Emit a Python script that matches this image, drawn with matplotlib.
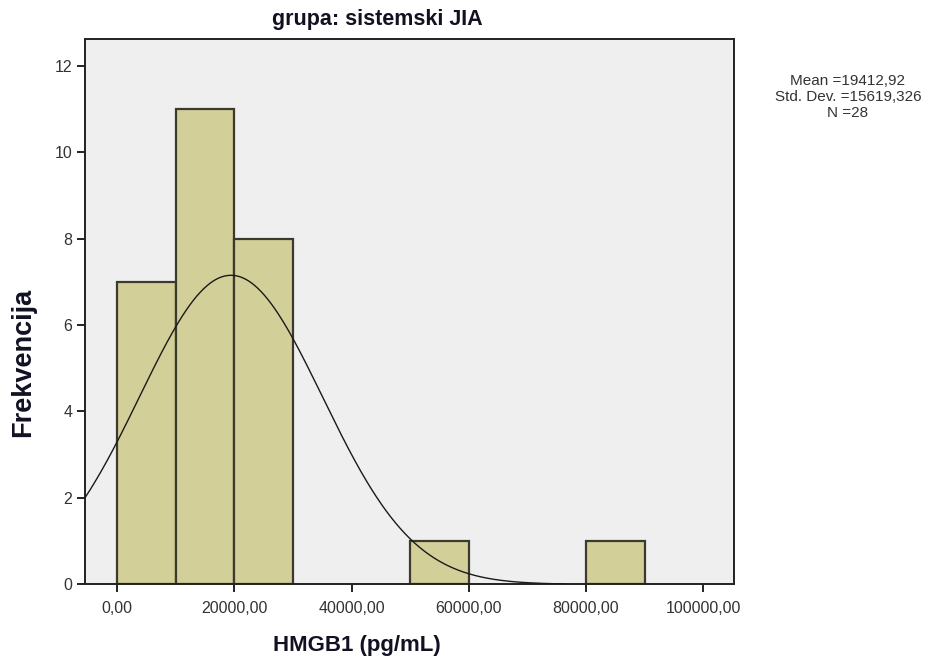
import numpy as np
import matplotlib.pyplot as plt

# histogram bins (pg/mL) and counts
bin_left = [0, 10000, 20000, 50000, 80000]
counts = [7, 11, 8, 1, 1]
bin_width = 10000

mean = 19412.92
std = 15619.326
n = 28

xticks = [0, 20000, 40000, 60000, 80000, 100000]
xtick_labels = ['0,00', '20000,00', '40000,00', '60000,00', '80000,00', '100000,00']
yticks = [0, 2, 4, 6, 8, 10, 12]

plt.rcParams['font.family'] = ['Liberation Sans', 'DejaVu Sans']

W, H = 936, 661
fig = plt.figure(figsize=(W / 100, H / 100), dpi=100)
ax = fig.add_axes([0.0908, 0.116, 0.6937, 0.825])
ax.set_facecolor('#efefef')

ax.bar(bin_left, counts, width=bin_width, align='edge',
       color='#d3cf98', edgecolor='#3a3a2e', linewidth=1.6, zorder=2)

# normal curve scaled to counts
xs = np.linspace(-5500, 76500, 400)
ys = n * bin_width / (std * np.sqrt(2 * np.pi)) * np.exp(-0.5 * ((xs - mean) / std) ** 2)
ax.plot(xs, ys, color='#1a1a1a', linewidth=1.0, zorder=3)

ax.set_xlim(-5500, 105300)
ax.set_ylim(0, 12.62)
ax.set_xticks(xticks)
ax.set_xticklabels(xtick_labels)
ax.set_yticks(yticks)

for s in ax.spines.values():
    s.set_color('#222222')
    s.set_linewidth(1.4)
ax.tick_params(axis='both', direction='out', length=6, width=1.4,
               colors='#222222', labelsize=11.5, labelcolor='#333333')
ax.tick_params(axis='x', pad=6)
ax.tick_params(axis='y', pad=3)

fig.text(377 / W, 1 - 20 / H, 'grupa: sistemski JIA', fontsize=15.5,
         fontweight='bold', color='#111122', ha='center', va='center')
fig.text(357 / W, 1 - 645 / H, 'HMGB1 (pg/mL)', fontsize=16,
         fontweight='bold', color='#111122', ha='center', va='center')
fig.text(23 / W, 1 - 362 / H, 'Frekvencija', fontsize=19.5,
         fontweight='bold', color='#111122', ha='center', va='center',
         rotation=90)

fig.text(848 / W, 1 - 97 / H,
         'Mean =19412,92\nStd. Dev. =15619,326\nN =28',
         ha='center', va='center', fontsize=11, color='#333333',
         linespacing=1.2)

fig.savefig('out.png', dpi=100)
